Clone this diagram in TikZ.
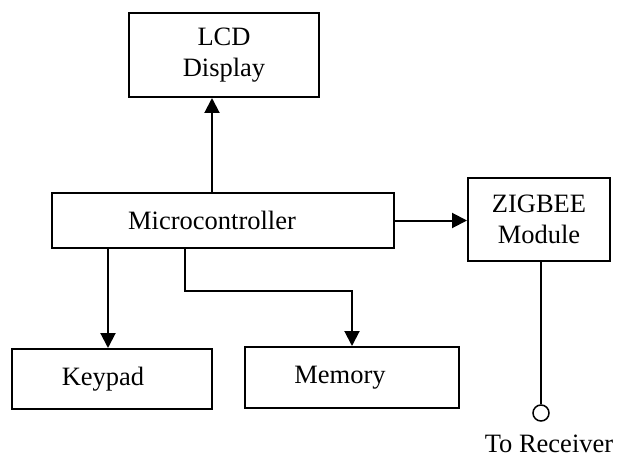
\documentclass[tikz,border=0pt]{standalone}
\usepackage{fontspec}
\setmainfont{Liberation Serif}
\usetikzlibrary{arrows.meta}
\begin{document}
\begin{tikzpicture}[x=1pt,y=-1pt,
  blk/.style={draw, line width=2pt, inner sep=0pt, align=center,
    font=\fontsize{26.5}{31}\selectfont},
  conn/.style={line width=2pt, -{Triangle[width=15pt,length=15pt]}},
  lead/.style={line width=1.5pt}]
\useasboundingbox (0,0) rectangle (623,457);
% blocks (trailing space pushes the label a little left of centre)
\node[blk, minimum width=190pt, minimum height=84pt] (lcd) at (224,55) {LCD\\Display};
\node[blk, minimum width=342pt, minimum height=55pt] (mcu) at (223,220.5) {Microcontroller\hspace*{22pt}};
\node[blk, minimum width=142pt, minimum height=83pt] (zig) at (539,219.5) {ZIGBEE\\Module};
\node[blk, minimum width=200pt, minimum height=60pt] (key) at (112,379) {Keypad\hspace*{18pt}};
\node[blk, minimum width=214pt, minimum height=61pt] (mem) at (352,377.5) {Memory\hspace*{24pt}};
% output terminal
\node[draw, circle, line width=1.5pt, minimum size=16pt, inner sep=0pt] (rx) at (541,413) {};
\node[font=\fontsize{26.5}{31}\selectfont, anchor=base, inner sep=0pt] (rxl) at (549,452) {To Receiver};
% connections
\draw[conn] (mcu.north -| 212,0) -- (lcd.south -| 212,0);
\draw[conn] (mcu.east) -- (zig.west |- mcu.east);
\draw[conn] (mcu.south -| 108,0) -- (key.north -| 108,0);
\draw[conn] (mcu.south -| 185,0) |- (352,291) -- (mem.north -| 352,0);
\draw[lead] (rx.north |- zig.south) -- (rx.north);
\end{tikzpicture}
\end{document}
